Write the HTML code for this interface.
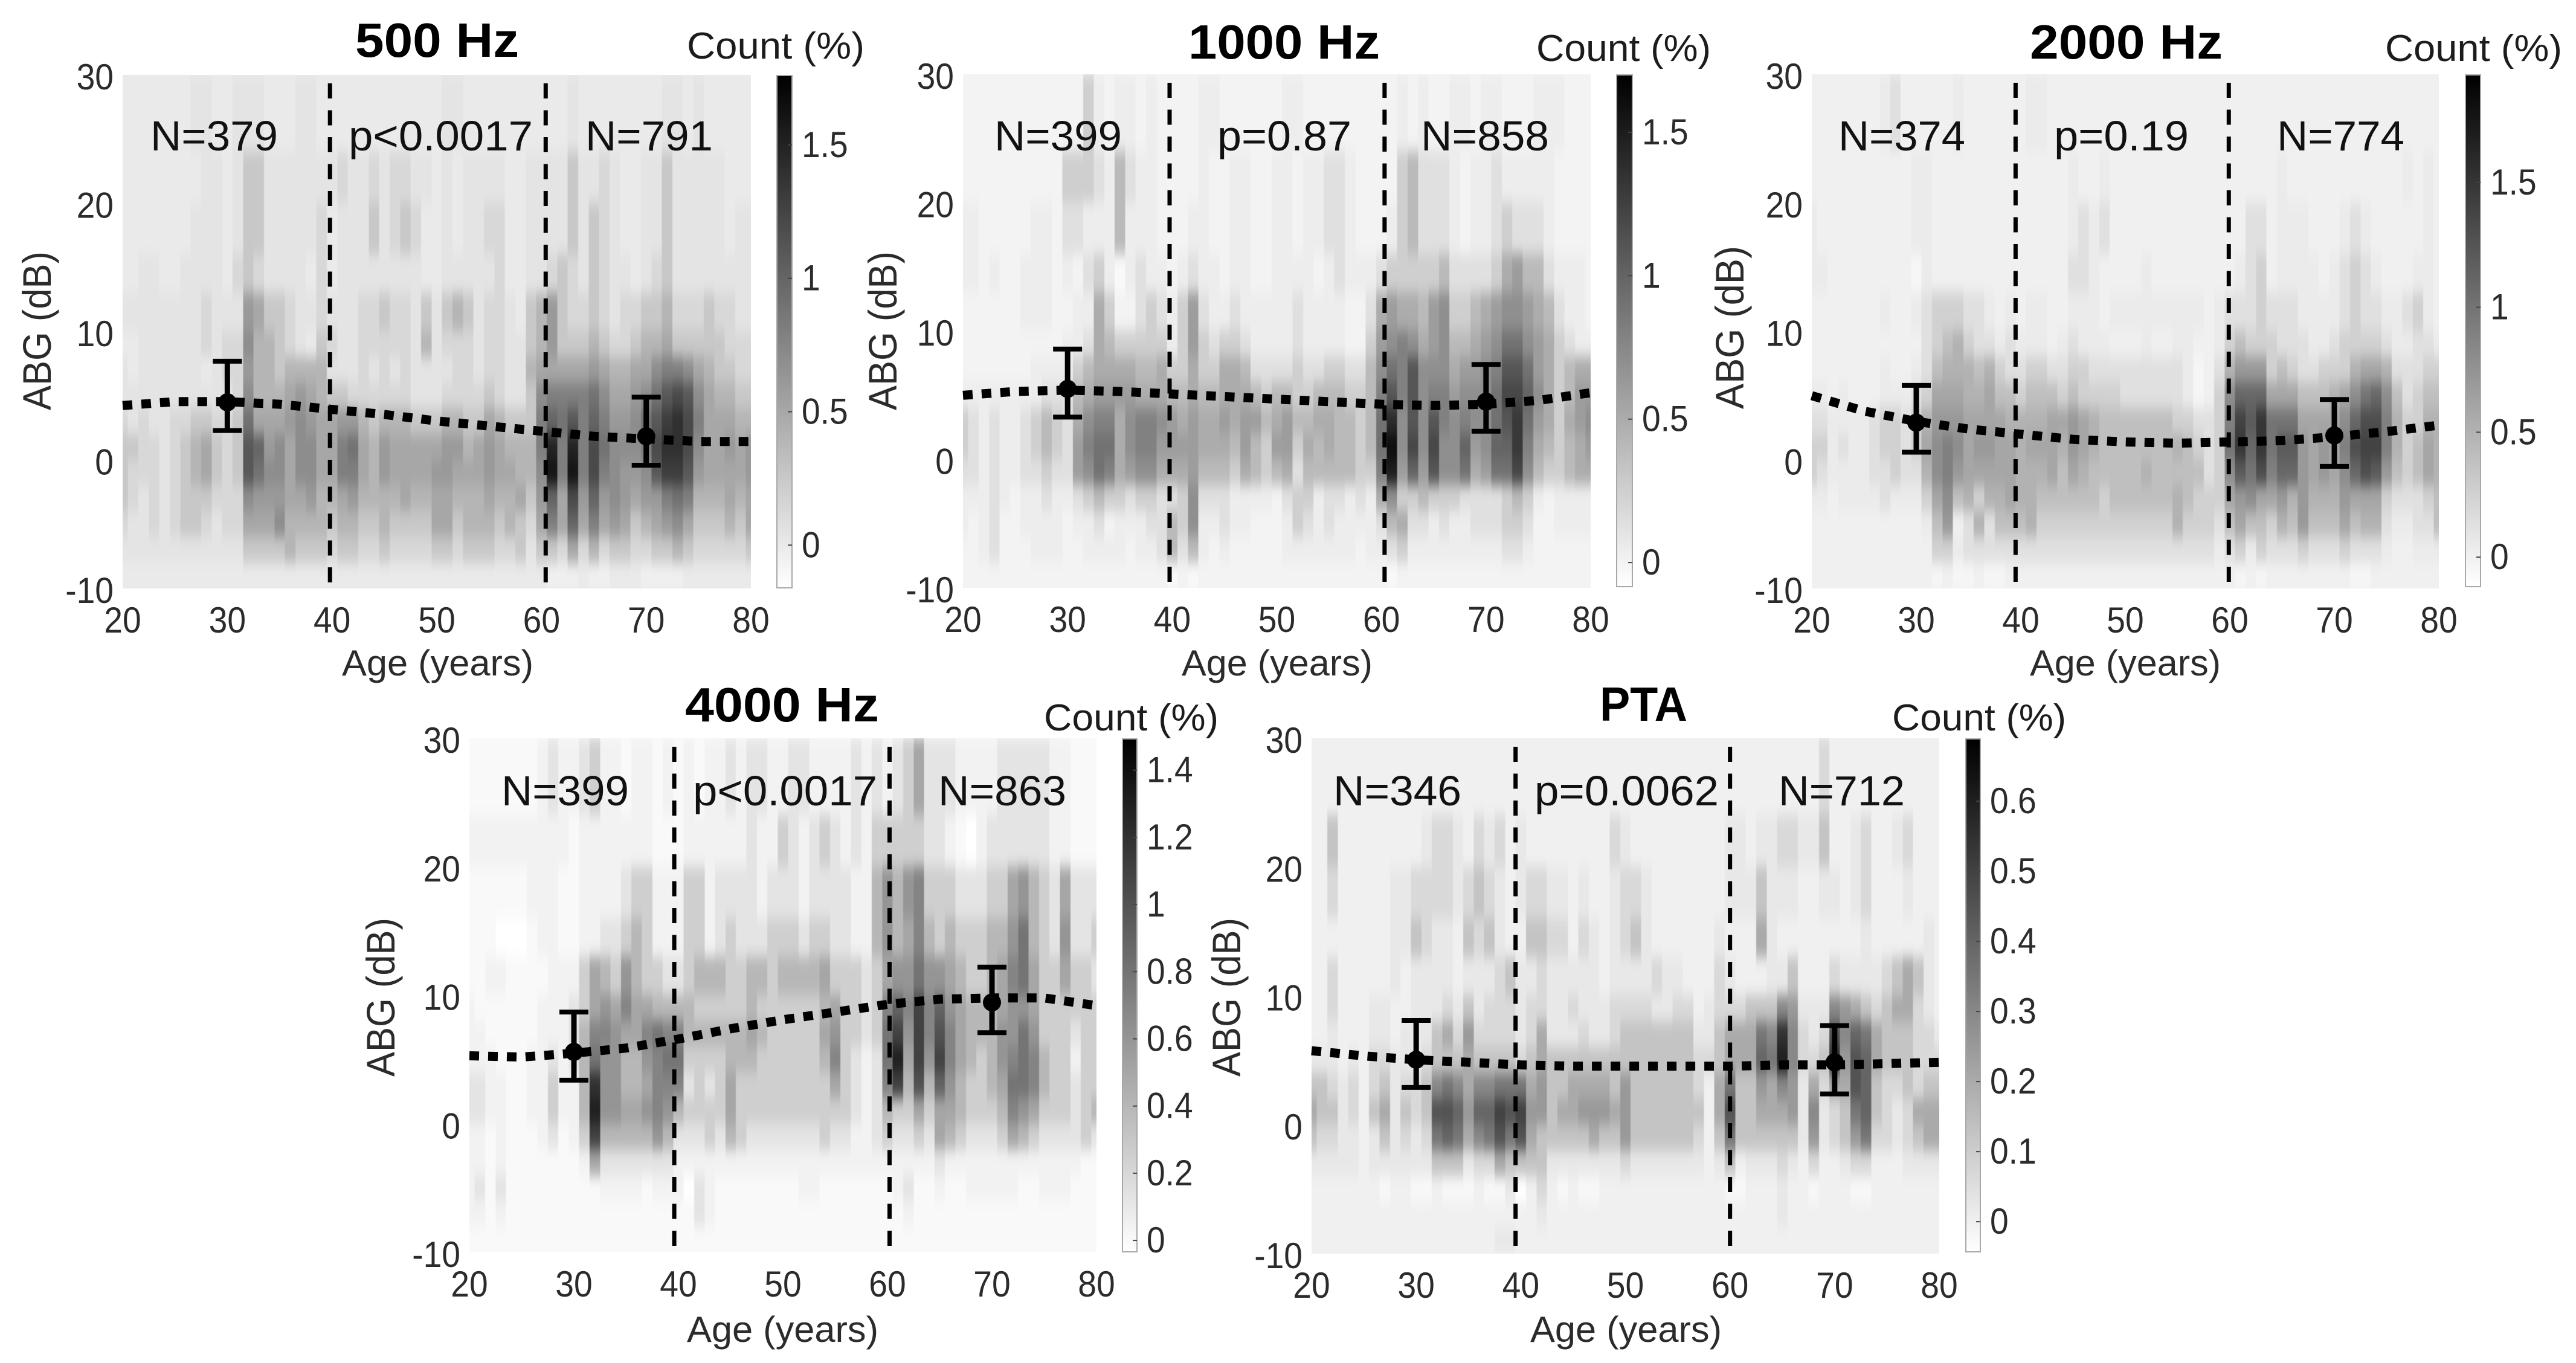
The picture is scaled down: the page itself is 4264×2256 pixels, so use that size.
<!DOCTYPE html>
<html lang="en">
<head>
<meta charset="utf-8">
<title>ABG by age heatmaps</title>
<style>
html,body{margin:0;padding:0;background:#fff;}
svg{display:block;font-family:"Liberation Sans",Arial,sans-serif;}
.tick{font-size:60px;fill:#2b2b2b;}
.axis{font-size:60px;fill:#2b2b2b;}
.axisy{font-size:66px;fill:#2b2b2b;}
.title{font-size:80px;font-weight:bold;fill:#000;}
.note{font-size:70px;fill:#111;}
.count{font-size:62px;fill:#1c1c1c;}
</style>
</head>
<body>
<svg id="figure" xmlns="http://www.w3.org/2000/svg" width="4264" height="2256" viewBox="0 0 4264 2256">
<defs>
<linearGradient id="barGrad" x1="0" y1="1" x2="0" y2="0"><stop offset="0" stop-color="#fff"/><stop offset="1" stop-color="#000"/></linearGradient>
<filter id="soft" filterUnits="userSpaceOnUse" x="0" y="0" width="4264" height="2256" color-interpolation-filters="sRGB"><feGaussianBlur stdDeviation="0.6 12"/></filter>
</defs>

<g id="panel500">
<g class="marks"></g>
<text class="title" x="588" y="94" textLength="271" lengthAdjust="spacingAndGlyphs">500 Hz</text>
<text class="count" x="1137" y="97" textLength="294" lengthAdjust="spacingAndGlyphs">Count (%)</text>
<text class="note" x="249" y="249" textLength="211" lengthAdjust="spacingAndGlyphs">N=379</text>
<text class="note" x="577" y="249" textLength="305" lengthAdjust="spacingAndGlyphs">p&lt;0.0017</text>
<text class="note" x="969" y="249" textLength="211" lengthAdjust="spacingAndGlyphs">N=791</text>
<text class="axis" x="566" y="1118" textLength="317" lengthAdjust="spacingAndGlyphs">Age (years)</text>
<text class="axisy" transform="rotate(-90 84 548)" y="548"><tspan x="84" dx="-131" textLength="263" lengthAdjust="spacingAndGlyphs">ABG (dB)</tspan></text>
</g>

<g id="panel1000">
<g class="marks"></g>
<text class="title" x="1967" y="97" textLength="317" lengthAdjust="spacingAndGlyphs">1000 Hz</text>
<text class="count" x="2543" y="101" textLength="289" lengthAdjust="spacingAndGlyphs">Count (%)</text>
<text class="note" x="1646" y="249" textLength="211" lengthAdjust="spacingAndGlyphs">N=399</text>
<text class="note" x="2015" y="249" textLength="222" lengthAdjust="spacingAndGlyphs">p=0.87</text>
<text class="note" x="2352" y="249" textLength="212" lengthAdjust="spacingAndGlyphs">N=858</text>
<text class="axis" x="1956" y="1118" textLength="316" lengthAdjust="spacingAndGlyphs">Age (years)</text>
<text class="axisy" transform="rotate(-90 1484 548)" y="548"><tspan x="1484" dx="-131" textLength="263" lengthAdjust="spacingAndGlyphs">ABG (dB)</tspan></text>
</g>

<g id="panel2000">
<g class="marks"></g>
<text class="title" x="3360" y="97" textLength="319" lengthAdjust="spacingAndGlyphs">2000 Hz</text>
<text class="count" x="3948" y="101" textLength="293" lengthAdjust="spacingAndGlyphs">Count (%)</text>
<text class="note" x="3043" y="249" textLength="210" lengthAdjust="spacingAndGlyphs">N=374</text>
<text class="note" x="3400" y="249" textLength="223" lengthAdjust="spacingAndGlyphs">p=0.19</text>
<text class="note" x="3769" y="249" textLength="211" lengthAdjust="spacingAndGlyphs">N=774</text>
<text class="axis" x="3360" y="1118" textLength="316" lengthAdjust="spacingAndGlyphs">Age (years)</text>
<text class="axisy" transform="rotate(-90 2886 542)" y="542"><tspan x="2886" dx="-135" textLength="270" lengthAdjust="spacingAndGlyphs">ABG (dB)</tspan></text>
</g>

<g id="panel4000">
<g class="marks"></g>
<text class="title" x="1134" y="1194" textLength="321" lengthAdjust="spacingAndGlyphs">4000 Hz</text>
<text class="count" x="1728" y="1209" textLength="289" lengthAdjust="spacingAndGlyphs">Count (%)</text>
<text class="note" x="830" y="1333" textLength="211" lengthAdjust="spacingAndGlyphs">N=399</text>
<text class="note" x="1147" y="1333" textLength="305" lengthAdjust="spacingAndGlyphs">p&lt;0.0017</text>
<text class="note" x="1553" y="1333" textLength="212" lengthAdjust="spacingAndGlyphs">N=863</text>
<text class="axis" x="1137" y="2221" textLength="317" lengthAdjust="spacingAndGlyphs">Age (years)</text>
<text class="axisy" transform="rotate(-90 653 1651)" y="1651"><tspan x="653" dx="-131" textLength="263" lengthAdjust="spacingAndGlyphs">ABG (dB)</tspan></text>
</g>

<g id="panelPta">
<g class="marks"></g>
<text class="title" x="2648" y="1193" textLength="145" lengthAdjust="spacingAndGlyphs">PTA</text>
<text class="count" x="3132" y="1209" textLength="288" lengthAdjust="spacingAndGlyphs">Count (%)</text>
<text class="note" x="2207" y="1333" textLength="212" lengthAdjust="spacingAndGlyphs">N=346</text>
<text class="note" x="2540" y="1333" textLength="305" lengthAdjust="spacingAndGlyphs">p=0.0062</text>
<text class="note" x="2944" y="1333" textLength="209" lengthAdjust="spacingAndGlyphs">N=712</text>
<text class="axis" x="2533" y="2221" textLength="317" lengthAdjust="spacingAndGlyphs">Age (years)</text>
<text class="axisy" transform="rotate(-90 2053 1651)" y="1651"><tspan x="2053" dx="-131" textLength="263" lengthAdjust="spacingAndGlyphs">ABG (dB)</tspan></text>
</g>
</svg>

<script>
const xTicks=[20,30,40,50,60,70,80];
const yTicks=[30,20,10,0,-10];
const firstAge=20;
const rowEdgesDb=[30,24,20,16,13,10,8,6,4,2,0,-2,-4,-6,-8,-10];
const curveAges=[20,25,30,35,40,45,50,55,60,65,70,75,80];
const markerAges=[30,70];

const curve500=[4.25,4.55,4.55,4.35,3.95,3.55,3.05,2.65,2.25,1.85,1.65,1.45,1.45];
const curve1000=[5.0,5.3,5.4,5.3,5.1,4.9,4.7,4.5,4.3,4.2,4.3,4.6,5.2];
const curve2000=[5.0,3.8,3.0,2.4,2.0,1.6,1.4,1.3,1.4,1.5,1.8,2.2,2.7];
const curve4000=[5.3,5.2,5.5,5.9,6.6,7.4,8.1,8.7,9.3,9.7,9.8,9.8,9.2];
const curvePta=[5.75,5.35,5.05,4.85,4.65,4.55,4.55,4.55,4.55,4.65,4.65,4.75,4.85];

const mean500=[4.5,1.85], low500=[2.3,-0.4], high500=[7.7,4.9];
const mean1000=[5.5,4.5], low1000=[3.3,2.2], high1000=[8.6,7.4];
const mean2000=[2.9,1.9], low2000=[0.6,-0.5], high2000=[5.8,4.7];
const mean4000=[5.6,9.45], low4000=[3.4,7.1], high4000=[8.7,12.2];
const meanPta=[5.05,4.85], lowPta=[2.9,2.4], highPta=[8.1,7.7];

const split500=[39.8,60.4], split1000=[39.75,60.3], split2000=[39.5,59.9], split4000=[39.6,60.2], splitPta=[39.5,60.0];

const clim500=[-0.16,1.76], clim1000=[-0.084,1.70], clim2000=[-0.118,1.93], clim4000=[-0.034,1.493], climPta=[-0.043,0.689];
const barTicks500=[0,0.5,1,1.5], barTicks1000=[0,0.5,1,1.5], barTicks2000=[0,0.5,1,1.5];
const barTicks4000=[0,0.2,0.4,0.6,0.8,1,1.2,1.4], barTicksPta=[0,0.1,0.2,0.3,0.4,0.5,0.6];
const unit500=0.1, unit1000=0.1, unit2000=0.1, unit4000=0.1, unitPta=0.05;

const heat500=[
[0,0,0,0,0,0,0,1,1,0, 0,1,1,1,0,0,0,1,1,0, 0,0,0,0,0,0,0,0,0,0, 0,1,1,0,0,0,0,0,0,0, 0,0,0,1,0,0,0,0,0,0, 0,0,1,1,0,1,0,0,0,0,0],
[0,0,0,0,0,0,0,0,1,1, 0,1,3,3,1,1,1,1,1,1, 1,2,1,1,2,1,2,2,1,1, 0,1,0,1,1,1,1,0,0,1, 1,1,1,3,1,1,2,1,0,0, 1,1,3,1,1,1,1,1,0,0,0],
[0,0,0,0,0,0,0,1,1,1, 0,1,3,3,1,1,1,1,1,2, 0,1,1,1,3,1,2,3,2,0, 0,1,0,1,1,2,2,0,0,1, 1,1,1,3,1,3,2,1,0,0, 1,1,3,1,1,1,1,1,0,1,1],
[0,0,1,1,0,0,1,1,1,1, 0,2,3,2,1,1,1,1,0,2, 0,1,1,1,1,1,1,1,1,0, 0,1,1,1,1,1,2,0,0,1, 1,2,3,2,1,3,2,1,1,0, 1,2,3,1,1,1,1,1,1,1,1],
[1,1,1,1,1,1,1,1,2,1, 1,1,6,5,3,3,2,1,1,2, 1,1,1,2,2,3,2,2,1,3, 1,3,4,3,1,2,2,1,0,3, 4,6,3,2,2,3,2,1,2,2, 3,3,4,2,2,2,3,2,2,1,1],
[0,0,1,1,1,1,1,1,2,1, 2,2,7,4,4,3,2,1,0,3, 2,1,1,2,2,2,2,2,1,4, 1,2,2,2,1,2,2,1,1,3, 4,6,3,3,3,4,3,2,2,3, 4,4,5,3,3,3,3,3,2,2,2],
[1,0,1,1,1,1,1,1,0,1, 2,2,6,4,4,3,4,4,4,4, 1,1,1,2,1,2,1,2,1,1, 1,1,2,2,1,2,2,1,1,4, 5,5,5,5,5,6,5,4,4,5, 5,7,8,8,7,5,4,3,3,2,2],
[1,1,1,1,1,1,1,1,1,1, 1,2,7,4,4,4,5,6,5,4, 3,3,2,2,2,2,2,2,1,1, 1,2,2,2,2,3,2,1,1,3, 7,8,8,8,8,9,7,5,5,6, 7,9,11,12,11,7,5,4,4,3,3],
[2,1,2,1,1,2,2,3,3,2, 2,3,9,5,5,5,6,7,6,5, 5,6,6,4,3,4,4,4,3,3, 3,4,4,3,3,5,4,3,3,3, 8,10,9,11,8,10,8,6,6,7, 9,11,13,14,12,8,5,5,5,4,4],
[3,3,2,2,1,2,3,4,5,3, 2,3,11,10,6,7,5,7,7,5, 5,8,9,5,4,6,5,5,5,5, 5,6,6,4,5,6,5,4,4,4, 8,15,8,15,8,12,9,7,7,7, 8,12,14,14,12,7,5,5,6,5,6],
[3,2,2,2,1,2,3,4,5,3, 2,3,11,9,7,7,5,7,7,5, 5,8,8,5,4,6,5,5,5,5, 6,6,5,5,5,6,5,5,4,4, 7,16,8,16,8,12,8,7,6,6, 7,11,13,13,11,6,5,5,5,5,6],
[3,2,1,2,1,2,3,3,3,2, 2,2,7,6,6,6,5,5,6,4, 4,5,6,4,4,4,4,5,4,4, 5,5,4,4,4,5,4,4,5,3, 6,10,5,12,6,10,6,7,6,5, 6,6,8,9,8,4,4,4,5,4,5],
[2,1,1,2,1,2,3,3,2,1, 2,2,5,5,5,7,4,4,4,4, 3,4,4,3,3,4,3,3,3,3, 5,5,3,4,4,4,3,4,3,2, 5,8,5,10,5,8,5,6,5,3, 4,5,6,7,5,3,3,3,4,3,5],
[1,1,1,1,1,1,1,1,1,1, 1,1,3,3,3,3,4,3,3,3, 2,3,3,2,2,3,2,2,2,2, 3,3,2,3,3,3,2,2,3,1, 3,3,2,5,2,4,2,3,3,2, 2,3,3,4,3,2,2,2,2,2,3],
[0,0,0,0,0,0,0,0,0,0, 0,0,0,0,0,0,0,0,0,0, 0,0,0,0,0,0,0,0,0,0, 0,0,0,0,0,0,0,0,0,0, 0,-1,-1,-1,0,-1,-1,0,0,0, -1,-1,-1,-1,0,0,0,0,0,0,0]
];

const heat1000=[
[0,0,0,0,0,0,0,0,0,0, 0,0,3,1,0,1,1,0,1,0, 0,0,0,1,1,0,0,0,0,0, 0,1,1,0,0,0,0,0,0,0, 0,0,1,0,1,0,0,1,1,0, 1,1,0,0,0,1,1,1,0,0,0],
[0,0,0,0,0,0,0,0,0,0, 3,3,3,2,1,4,2,1,1,0, 0,0,0,1,0,0,1,1,0,0, 1,1,0,1,1,2,2,1,0,0, 0,0,3,4,2,2,2,1,0,1, 1,2,1,1,1,1,1,0,0,0,0],
[1,1,0,0,0,0,0,1,1,0, 2,2,1,1,1,4,1,1,1,0, 0,0,1,1,0,0,1,1,0,0, 1,1,0,1,1,2,2,1,0,0, 0,1,3,4,2,2,2,1,0,1, 1,2,3,2,2,2,1,0,0,0,0],
[1,1,0,1,0,0,1,1,1,0, 1,0,2,3,1,-1,1,2,1,1, 0,1,2,1,1,0,1,1,0,0, 1,1,1,1,0,1,2,1,1,1, 2,3,3,3,3,3,4,2,2,2, 2,3,5,6,4,4,2,1,1,1,0],
[0,0,0,0,0,0,1,1,1,0, 0,1,1,5,3,0,0,2,3,2, 1,3,6,2,1,1,2,1,1,1, 1,1,2,1,1,1,1,0,0,2, 5,6,5,5,4,6,7,3,3,4, 5,6,7,7,6,5,4,2,1,1,0],
[0,0,0,0,0,0,0,0,0,0, 1,1,2,5,4,3,3,3,3,3, 1,3,6,3,2,3,3,2,1,1, 1,1,2,1,1,1,1,0,0,3, 6,7,8,7,5,6,7,4,4,5, 6,7,9,9,7,6,5,3,2,1,1],
[0,0,0,0,0,0,0,1,1,1, 1,3,4,5,5,5,5,4,4,5, 3,3,5,3,3,5,5,4,2,2, 2,2,3,2,2,3,3,2,2,4, 7,9,8,11,7,7,7,5,6,6, 7,8,11,11,9,6,5,3,4,5,5],
[1,1,1,1,1,1,1,1,2,2, 2,4,5,6,6,6,6,5,5,5, 4,4,5,4,4,5,5,5,4,3, 4,4,3,3,4,4,4,3,3,4, 8,11,8,11,7,8,8,6,7,7, 7,9,12,12,10,7,5,3,4,6,6],
[3,2,1,2,1,1,2,3,4,3, 2,5,7,8,8,5,7,8,8,7, 6,5,6,5,5,6,5,6,6,4, 5,6,4,4,5,5,4,4,3,4, 9,14,7,11,7,11,8,7,8,7, 7,9,11,13,9,6,5,3,5,6,7],
[3,2,1,2,1,1,2,3,4,3, 2,6,8,9,9,5,7,8,8,6, 6,6,6,5,5,5,4,6,4,3, 6,6,3,5,4,5,4,4,3,4, 9,16,7,12,7,12,7,7,10,6, 7,10,10,13,8,5,4,3,4,5,6],
[2,2,1,2,1,1,2,2,3,2, 2,6,7,9,8,5,6,7,7,5, 5,5,6,4,4,4,3,5,4,3, 4,5,2,4,4,4,4,4,3,3, 8,15,6,10,6,11,7,7,9,5, 6,9,9,12,7,4,3,3,4,5,5],
[1,1,1,2,1,0,1,1,2,1, 1,2,3,4,3,3,2,3,3,2, 2,3,7,2,2,2,1,1,1,1, 0,2,3,3,1,2,2,1,2,1, 5,7,3,3,4,3,3,3,2,2, 2,2,3,4,3,1,0,1,1,1,1],
[1,0,1,2,0,0,1,1,1,1, 0,1,1,2,0,1,1,1,2,2, 4,3,7,1,1,2,1,1,0,0, 0,1,3,2,1,2,1,1,1,1, 2,4,5,2,2,1,2,1,1,2, 2,2,3,3,2,0,0,1,1,1,1],
[0,0,1,2,0,0,0,1,1,1, 0,0,1,1,1,1,0,1,1,2, 4,2,4,1,0,1,0,0,0,0, 0,1,1,1,1,1,1,1,0,1, 1,2,3,1,1,1,1,1,1,1, 1,1,2,2,1,0,0,0,0,0,0],
[0,0,0,0,0,0,0,0,0,0, 0,0,0,0,0,0,0,0,0,0, -1,0,-1,0,0,0,0,0,0,0, 0,0,0,0,0,0,0,0,0,0, 0,-1,0,0,0,0,0,0,0,0, 0,0,0,0,0,0,0,0,0,0,0]
];

const heat2000=[
[0,0,0,0,0,0,0,1,2,0, 0,0,0,0,1,0,0,0,0,0, 0,1,1,0,0,0,0,0,0,0, 0,0,0,0,0,0,0,0,0,0, 0,0,0,0,0,0,0,0,0,0, 0,0,0,0,0,0,0,0,0,0,0],
[0,0,0,0,0,0,0,0,0,0, 1,1,0,0,0,0,0,0,0,0, 0,0,0,0,0,1,0,0,1,0, 0,0,0,0,0,0,0,0,0,0, 0,0,0,0,0,1,0,0,0,0, 0,0,0,0,0,0,0,1,0,1,0],
[1,0,0,0,0,0,0,0,0,0, 1,1,0,0,0,0,0,0,0,0, 0,0,0,0,0,1,2,1,2,0, 0,0,0,0,0,0,0,0,0,0, 0,0,2,2,0,1,1,1,0,0, 0,1,2,1,0,0,0,0,0,1,0],
[1,1,0,0,0,0,0,0,0,0, -1,1,0,0,0,0,0,0,0,0, 0,0,0,0,0,2,2,1,0,0, 0,0,1,0,0,0,0,0,0,0, 0,1,2,3,0,1,1,1,1,0, 1,2,3,2,1,0,0,0,1,1,0],
[0,0,0,0,0,0,0,1,0,0, 1,2,3,3,3,2,2,1,0,1, 0,1,1,0,0,1,1,1,0,1, 1,1,1,1,1,1,1,1,0,1, 2,2,2,3,2,2,2,1,1,1, 1,2,3,2,2,1,1,2,3,1,0],
[0,0,0,0,0,0,0,0,0,0, 0,2,3,4,5,3,2,2,1,2, 1,1,1,0,1,2,1,1,1,0, 0,0,1,0,0,1,1,0,0,1, 3,4,3,3,3,2,2,2,1,1, 2,3,3,3,3,2,1,1,2,2,1],
[0,0,0,0,0,0,0,1,0,0, 1,2,4,5,5,5,4,5,3,2, 2,3,3,2,2,3,3,2,2,2, 2,2,2,2,2,2,1,-1,0,2, 5,7,7,7,3,4,3,2,2,3, 3,3,5,6,6,5,2,2,2,3,3],
[1,1,0,1,0,0,0,1,1,1, 2,3,6,6,6,5,5,6,4,4, 3,4,4,4,3,4,3,3,3,3, 2,2,2,2,2,2,1,-1,0,3, 8,11,11,11,6,6,6,4,4,4, 5,6,8,10,11,8,4,2,3,4,4],
[2,2,1,1,1,1,2,3,3,2, 3,5,7,7,7,6,6,6,6,5, 5,5,5,6,6,7,6,5,4,4, 4,4,4,4,4,3,3,2,2,3, 9,14,12,15,10,10,10,6,6,6, 6,8,11,13,13,9,5,3,3,5,5],
[3,3,1,2,1,1,2,3,3,2, 3,6,8,9,8,6,7,7,6,6, 5,6,6,6,5,7,6,5,4,4, 4,4,4,4,4,5,4,3,2,3, 10,15,11,15,10,12,12,7,6,7, 6,9,13,14,14,9,5,3,4,6,5],
[3,2,1,1,1,1,2,2,3,2, 2,5,8,9,7,6,6,6,6,6, 5,5,5,6,4,6,5,4,4,4, 4,4,5,4,4,4,4,4,2,3, 8,12,10,13,9,11,11,7,6,7, 6,8,11,13,12,7,4,3,4,6,5],
[1,1,0,1,1,1,1,2,1,1, 1,3,6,8,4,5,3,5,5,6, 5,5,4,4,4,4,4,4,3,4, 4,4,4,4,4,5,4,3,3,3, 6,7,8,6,6,7,5,7,5,5, 5,7,6,6,6,3,2,2,2,3,4],
[0,0,0,0,0,0,0,0,0,0, 0,1,4,7,0,2,5,2,4,4, 4,5,3,3,3,3,3,3,3,3, 3,3,3,3,3,5,3,3,3,2, 4,6,4,4,3,5,4,7,4,4, 4,6,4,5,5,2,1,1,2,2,4],
[0,0,0,0,0,0,0,0,0,0, 0,0,3,3,1,2,2,2,2,2, 2,2,2,2,2,2,2,2,2,2, 2,2,2,2,2,2,2,2,2,1, 2,3,1,3,2,2,2,3,2,2, 2,3,2,2,2,1,0,0,1,1,1],
[0,0,0,0,0,0,0,0,0,0, 0,0,-1,0,-1,-1,0,-1,-1,0, 0,0,0,0,0,0,0,0,0,0, 0,0,0,0,0,0,0,0,0,0, 0,-1,0,-1,0,0,0,0,0,0, 0,0,-1,-1,0,0,0,0,0,0,0]
];

const heat4000=[
[0,0,0,0,0,0,0,1,2,1, 1,2,3,1,1,0,1,1,0,1, 0,1,0,1,1,2,1,2,2,1, 1,2,2,1,1,1,1,2,1,2, 1,2,3,5,2,2,2,1,1,1, 1,2,2,2,2,2,1,1,0,0,0],
[1,1,1,1,1,1,1,1,1,1, 0,1,1,1,1,1,1,1,0,0, 0,1,1,1,1,1,1,2,1,1, 3,2,1,2,3,2,1,2,1,3, 3,3,3,3,2,2,1,0,-1,1, 2,2,2,2,2,2,1,1,0,0,0],
[0,0,0,0,0,0,1,1,1,0, 0,1,1,1,1,2,3,3,1,1, 1,3,3,1,2,2,2,2,1,2, 2,2,1,2,2,2,2,1,1,4, 6,4,6,7,3,3,3,2,2,2, 3,3,5,6,4,3,2,5,2,2,2],
[0,0,0,-1,-1,-1,0,1,1,0, 0,1,1,2,2,3,4,3,1,1, 1,3,3,1,2,3,2,2,2,3, 3,3,2,3,3,2,2,1,1,4, 6,4,5,7,4,3,4,3,3,3, 4,4,6,8,4,3,2,6,2,2,3],
[0,0,1,1,0,0,0,0,1,1, 1,3,5,4,3,6,4,3,3,2, 2,3,4,4,4,3,3,4,4,3, 4,4,4,4,5,3,3,3,2,3, 5,6,6,8,6,6,5,4,3,3, 4,5,7,8,5,3,3,5,3,3,2],
[1,0,0,0,0,0,0,1,1,1, 2,3,5,6,5,7,5,5,4,4, 4,4,3,3,3,3,3,4,3,3, 3,3,3,3,4,5,3,3,2,3, 7,9,7,11,7,9,6,5,4,4, 4,5,6,6,5,3,3,3,3,3,3],
[1,1,0,0,0,0,0,1,1,1, 2,4,7,7,6,5,5,7,8,7, 7,4,4,4,4,4,4,5,4,3, 3,3,3,3,5,6,3,3,2,3, 8,11,6,11,7,10,7,5,4,4, 4,6,6,8,6,3,3,3,2,3,3],
[1,1,1,0,0,0,1,1,2,1, 2,4,8,6,6,4,4,6,7,8, 8,3,3,3,3,4,4,4,3,3, 3,3,3,3,4,7,3,2,1,2, 8,13,5,11,6,11,7,5,4,3, 4,6,7,8,7,4,3,3,1,3,3],
[2,2,1,1,0,0,1,1,3,1, 1,4,12,6,6,4,4,5,7,7, 7,2,3,2,3,5,3,3,3,3, 3,3,3,3,3,5,3,2,1,2, 7,11,4,10,4,9,6,4,3,3, 4,5,8,8,7,4,3,3,2,3,3],
[2,2,1,1,0,0,1,1,3,1, 1,4,13,6,6,5,5,6,7,6, 4,3,3,3,3,5,3,3,3,3, 3,3,3,3,3,3,3,2,1,2, 4,3,3,5,3,5,5,4,3,3, 3,4,7,6,5,3,3,3,2,3,4],
[1,1,0,1,0,0,0,1,2,0, 1,3,11,4,4,4,4,4,6,4, 2,2,2,3,2,4,3,2,2,2, 2,2,2,2,3,2,2,1,1,2, 3,2,2,3,2,5,4,3,2,2, 2,3,5,4,3,2,2,2,2,3,2],
[1,1,0,1,0,0,0,0,0,0, 0,1,5,2,2,2,2,2,2,2, 1,1,1,1,1,1,1,1,1,1, 1,1,1,1,1,1,1,1,1,1, 1,1,1,1,1,2,1,1,1,1, 1,1,1,1,1,1,1,1,1,0,0],
[1,2,0,2,0,0,0,0,0,0, 0,0,0,1,1,1,1,0,1,1, 1,-1,2,1,0,0,0,0,0,0, 0,0,1,1,0,0,0,0,0,0, 0,1,2,0,0,1,0,0,1,1, 1,1,1,0,0,1,1,1,0,0,0],
[1,1,0,1,0,0,0,0,0,0, 0,0,0,0,0,0,0,0,0,0, 0,0,2,1,0,0,0,0,0,0, 0,0,0,0,0,0,0,0,0,0, 0,0,1,0,0,0,0,0,0,0, 0,0,0,0,0,0,0,0,0,0,0],
[0,0,0,0,0,0,0,0,0,0, 0,0,0,0,0,0,0,0,0,0, 0,0,0,0,0,0,0,0,0,0, 0,0,0,0,0,0,0,0,0,0, 0,0,0,0,0,0,0,0,0,0, 0,0,0,0,0,0,0,0,0,0,0]
];

const heatPta=[
[0,0,0,0,0,0,0,0,0,0, 0,0,0,0,0,0,0,0,0,0, 0,0,0,0,0,0,0,0,0,0, 0,0,0,0,0,0,0,0,0,0, 0,0,0,0,0,0,0,0,0,2, 0,0,0,0,0,0,0,0,0,0,0],
[0,0,3,0,0,0,0,0,0,0, 0,1,2,2,1,0,2,1,2,0, 1,0,0,0,0,0,0,0,0,2, 1,0,0,0,0,0,0,0,0,0, 1,1,0,1,1,2,2,1,1,3, 0,0,1,2,0,0,1,2,0,0,0],
[0,0,2,0,0,0,0,0,1,1, 2,2,2,2,1,2,3,2,1,0, 1,2,2,1,1,0,1,0,0,1, 2,2,1,0,0,0,0,0,0,0, 1,1,1,3,1,1,1,0,0,1, 1,0,1,2,0,0,0,1,0,0,0],
[0,0,0,0,0,0,0,0,1,1, 3,2,1,1,0,3,2,3,1,0, 0,3,3,2,2,0,2,1,0,1, 2,3,1,0,0,0,0,0,0,1, 0,0,0,4,1,0,0,0,0,0, 0,0,0,1,0,0,0,0,0,1,0],
[0,0,2,0,0,0,0,0,1,0, 1,1,1,1,0,1,1,1,2,3, 1,1,2,1,1,1,1,1,0,1, 1,1,1,2,1,1,0,0,0,2, 1,0,0,0,1,1,3,0,0,0, 2,1,1,1,1,2,3,4,3,1,0],
[0,0,2,0,0,0,1,1,0,0, 1,1,1,2,1,3,1,2,2,2, 1,2,2,1,1,2,1,1,1,2, 2,2,2,1,1,2,2,0,1,2, 2,2,3,3,3,6,5,1,1,1, 6,5,4,3,2,3,4,4,2,1,0],
[0,0,1,0,0,0,1,1,0,1, 1,1,3,4,2,5,2,2,2,2, 1,2,4,1,1,1,2,1,1,2, 3,3,3,3,3,3,3,1,1,3, 4,4,4,7,6,11,6,2,1,2, 9,6,8,7,4,3,3,3,2,2,1],
[1,1,1,0,1,0,2,2,1,1, 1,2,3,3,3,4,3,3,3,3, 2,3,4,3,3,3,3,3,3,3, 3,3,3,3,3,3,3,2,2,3, 4,4,4,8,7,12,6,2,2,3, 11,5,9,8,4,3,3,3,2,2,2],
[3,3,2,1,2,0,2,3,1,2, 2,3,6,7,6,4,6,6,7,7, 7,4,5,3,3,4,4,4,4,3, 5,3,3,3,3,3,3,2,0,4, 7,3,3,5,4,6,5,1,4,2, 4,4,9,8,3,2,2,3,2,3,3],
[4,3,3,1,2,0,3,4,1,3, 2,3,9,9,8,5,8,8,10,9, 10,5,5,3,4,4,5,5,5,4, 5,3,3,3,3,3,3,3,0,4, 9,3,3,4,4,4,5,1,6,1, 2,3,7,8,3,2,1,2,4,4,4],
[3,2,2,1,1,0,1,3,1,2, 1,2,7,8,7,4,6,7,9,7, 9,4,3,3,3,3,3,4,3,3, 5,3,3,3,3,3,3,2,0,3, 7,3,3,3,3,3,3,1,5,1, 2,3,5,7,2,2,1,2,3,4,4],
[1,1,1,1,1,0,1,1,1,1, 1,1,3,3,3,1,2,2,4,3, 3,3,3,1,1,1,1,1,1,1, 2,1,1,1,1,1,1,1,0,1, 3,0,1,1,1,2,1,0,2,0, 0,1,2,2,0,0,0,1,1,1,1],
[0,0,0,0,0,0,0,-1,0,0, -1,-1,0,-1,-1,-1,0,-1,-1,1, -2,0,2,0,-1,0,-1,-1,0,0, 0,0,0,0,0,0,0,0,0,0, -1,-1,0,0,0,1,0,0,-1,0, 0,0,-1,-1,0,0,0,0,0,0,0],
[0,0,0,0,0,0,0,0,0,0, 0,0,0,0,0,0,0,0,0,0, 0,0,1,0,0,0,0,0,0,0, 0,0,0,0,0,0,0,0,0,0, 0,0,0,0,0,1,0,0,0,0, 0,0,0,0,0,0,0,0,0,0,0],
[0,0,0,0,0,0,0,0,0,0, 0,0,0,0,0,0,0,0,1,1, 0,0,0,0,0,0,0,0,0,0, 0,0,0,0,0,0,0,0,0,0, 0,0,0,0,0,0,0,0,0,0, 0,0,0,0,0,0,0,0,0,0,0]
];

const NS='http://www.w3.org/2000/svg';

function make(tag,parent,attrs){
  const el=document.createElementNS(NS,tag);
  for(const k in attrs) el.setAttribute(k,attrs[k]);
  parent.appendChild(el);
  return el;
}

/* faint bins were read in whole units; ease them toward the background */
function faint(v){
  const a=Math.abs(v);
  return a>=4 ? v : Math.sign(v)*(0.2*a*a+0.25*a);
}

/* digits are drawn tall and slightly condensed, as in the reference */
function tickWidth(s){
  let w=0;
  for(const ch of s) w+= ch==='.' ? 15.3 : ch==='-' ? 18.4 : 30.7;
  return w;
}

function tickLabel(root,label,name,attrs){
  const s=String(label);
  const el=make('text',root,attrs);
  el.setAttribute('class','tick');
  el.setAttribute('textLength',tickWidth(s).toFixed(1));
  el.setAttribute('lengthAdjust','spacingAndGlyphs');
  
  
  el.textContent=s;
}

function drawPanel(p){
  const root=document.getElementById(p.id).querySelector('.marks');
  const x=a=>p.left+(a-20)/60*(p.right-p.left);
  const y=d=>p.top+(30-d)/40*(p.bottom-p.top);
  const vmin=p.clim[0], vmax=p.clim[1];
  const grey=v=>{
    const t=Math.max(0,Math.min(1,(v-vmin)/(vmax-vmin)));
    const g=Math.round(255*(1-t));
    return 'rgb('+g+','+g+','+g+')';
  };

  const clipId='clip-'+p.id;
  const cp=make('clipPath',root,{id:clipId});
  make('rect',cp,{x:p.left,y:p.top,width:p.right-p.left,height:p.bottom-p.top});

  const clipped=make('g',root,{'clip-path':'url(#'+clipId+')'});
  
  
  const blurred=make('g',clipped,{filter:'url(#soft)'});
  make('rect',blurred,{x:p.left-60,y:p.top-60,width:p.right-p.left+120,height:p.bottom-p.top+120,fill:grey(0)});
  p.heat.forEach((row,r)=>{
    const y0=y(rowEdgesDb[r]), y1=y(rowEdgesDb[r+1]);
    row.forEach((val,c)=>{
      const age=firstAge+c;
      const cell=make('rect',blurred,{x:x(age-0.5),y:y0-0.5,width:x(age+0.5)-x(age-0.5)+0.6,height:y1-y0+1,fill:grey(faint(val)*p.unit),'shape-rendering':'crispEdges'});
      
      
    });
  });

  p.split.forEach(a=>{
    const line=make('line',root,{x1:x(a),x2:x(a),y1:p.top+14,y2:p.bottom,stroke:'#000','stroke-width':7,'stroke-dasharray':'25 19.5'});
    
    
  });

  const pts=p.curve.map((d,i)=>x(curveAges[i]).toFixed(1)+','+y(d).toFixed(1)).join(' ');
  const curve=make('polyline',root,{points:pts,fill:'none',stroke:'#000','stroke-width':15,'stroke-dasharray':'16 15'});
  
  

  markerAges.forEach((a,i)=>{
    const g=make('g',root,{});
    
    
    make('line',g,{x1:x(a),x2:x(a),y1:y(p.low[i]),y2:y(p.high[i]),stroke:'#000','stroke-width':9});
    make('line',g,{x1:x(a)-24,x2:x(a)+24,y1:y(p.low[i]),y2:y(p.low[i]),stroke:'#000','stroke-width':8});
    make('line',g,{x1:x(a)-24,x2:x(a)+24,y1:y(p.high[i]),y2:y(p.high[i]),stroke:'#000','stroke-width':8});
    make('circle',g,{cx:x(a),cy:y(p.mean[i]),r:15,fill:'#000'});
  });

  xTicks.forEach(t=>{
    tickLabel(root,t,'x-tick-label',{x:x(t),y:p.bottom+73,'text-anchor':'middle'});
  });
  yTicks.forEach(t=>{
    tickLabel(root,t,'y-tick-label',{x:p.left-15,y:y(t)+24,'text-anchor':'end'});
  });

  const bar=make('rect',root,{x:p.barL,y:p.barT,width:p.barR-p.barL,height:p.barB-p.barT,fill:'url(#barGrad)',stroke:'#a8a8a8','stroke-width':2});
  
  
  const by=v=>p.barB-(v-vmin)/(vmax-vmin)*(p.barB-p.barT);
  p.barTicks.forEach(t=>{
    make('line',root,{x1:p.barR-7,x2:p.barR,y1:by(t),y2:by(t),stroke:'#444','stroke-width':2});
    tickLabel(root,t,'colorbar-tick-label',{x:p.barR+16,y:by(t)+20});
  });
}

drawPanel({id:'panel500',left:203,right:1243,top:124,bottom:974,barL:1286,barR:1311,barT:125,barB:973,heat:heat500,unit:unit500,clim:clim500,curve:curve500,mean:mean500,low:low500,high:high500,split:split500,barTicks:barTicks500});
drawPanel({id:'panel1000',left:1594,right:2633,top:123,bottom:973,barL:2676,barR:2702,barT:124,barB:971,heat:heat1000,unit:unit1000,clim:clim1000,curve:curve1000,mean:mean1000,low:low1000,high:high1000,split:split1000,barTicks:barTicks1000});
drawPanel({id:'panel2000',left:2999,right:4037,top:123,bottom:974,barL:4081,barR:4106,barT:124,barB:971,heat:heat2000,unit:unit2000,clim:clim2000,curve:curve2000,mean:mean2000,low:low2000,high:high2000,split:split2000,barTicks:barTicks2000});
drawPanel({id:'panel4000',left:777,right:1815,top:1222,bottom:2073,barL:1858,barR:1882,barT:1223,barB:2072,heat:heat4000,unit:unit4000,clim:clim4000,curve:curve4000,mean:mean4000,low:low4000,high:high4000,split:split4000,barTicks:barTicks4000});
drawPanel({id:'panelPta',left:2171,right:3210,top:1222,bottom:2075,barL:3254,barR:3278,barT:1223,barB:2072,heat:heatPta,unit:unitPta,clim:climPta,curve:curvePta,mean:meanPta,low:lowPta,high:highPta,split:splitPta,barTicks:barTicksPta});
</script>
</body>
</html>
